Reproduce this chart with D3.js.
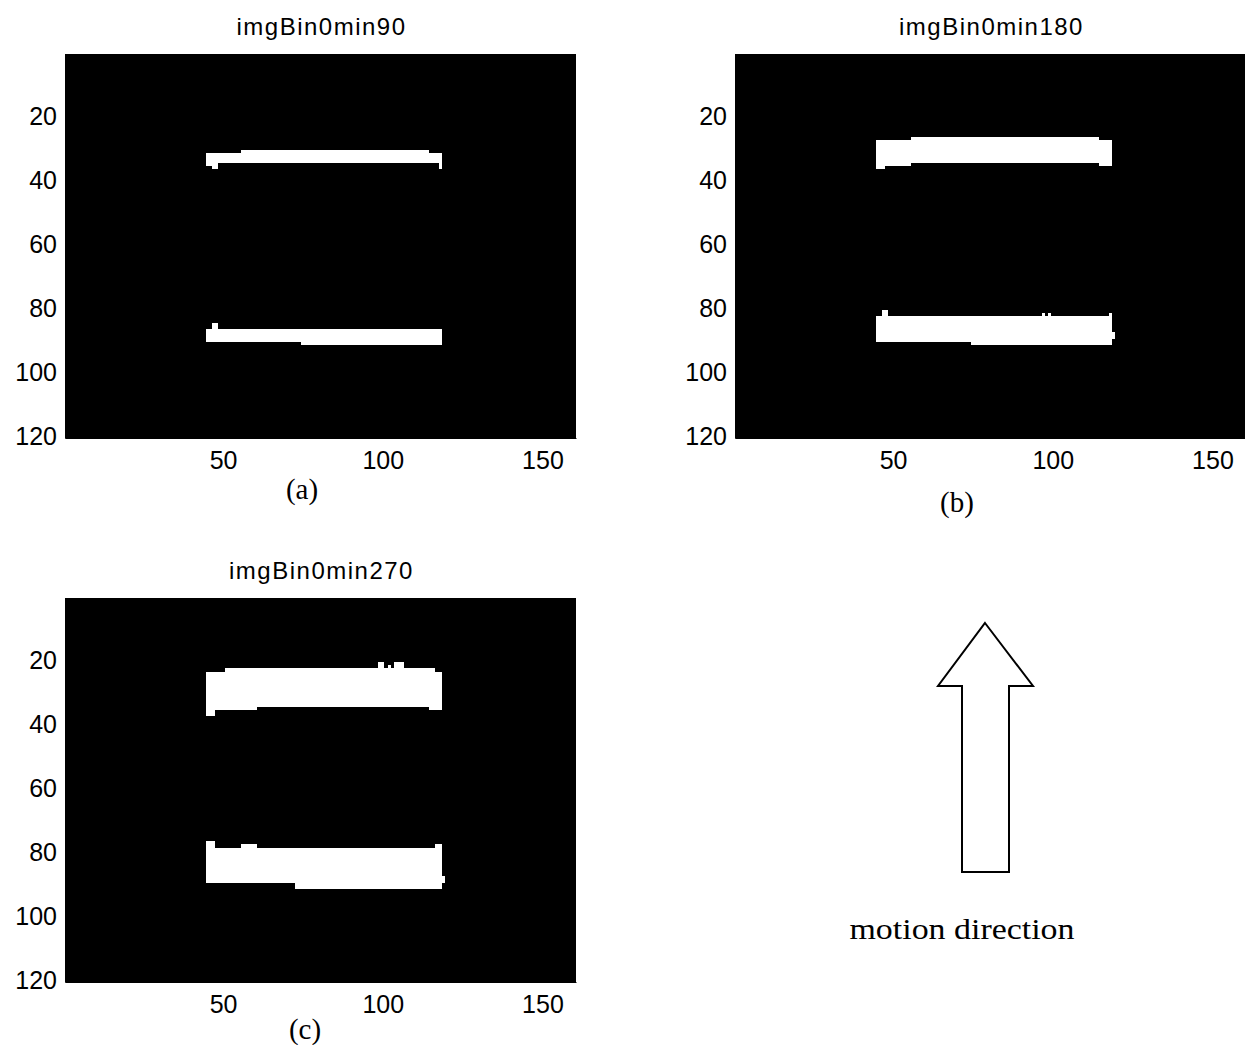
<!DOCTYPE html>
<html>
<head>
<meta charset="utf-8">
<script src="https://cdn.jsdelivr.net/npm/d3@7"></script>
<style>
  html, body { margin: 0; padding: 0; background: #fff; }
  svg { display: block; }
</style>
</head>
<body>
<svg id="chart" width="1245" height="1045"></svg>
<script>
// ---- data (image pixel blocks: [colStart, colEnd, rowStart, rowEnd], inclusive) ----
const imgCols = 160;
const imgRows = 120;
const xTicks = [50, 100, 150];
const yTicks = [20, 40, 60, 80, 100, 120];

const titles = ["imgBin0min90", "imgBin0min180", "imgBin0min270"];
const subLabels = ["(a)", "(b)", "(c)"];

const blocks90 = [
  [45, 118, 32, 34], [56, 114, 31, 31], [45, 46, 35, 35], [47, 48, 35, 36], [118, 118, 35, 36],
  [45, 118, 87, 90], [75, 118, 91, 91], [47, 48, 85, 86]
];
const blocks180 = [
  [45, 118, 28, 34], [56, 114, 27, 27], [45, 55, 35, 35], [45, 47, 36, 36], [115, 118, 35, 35],
  [45, 118, 83, 90], [75, 118, 91, 91], [47, 48, 81, 82], [118, 118, 82, 82],
  [97, 97, 82, 82], [99, 99, 82, 82], [119, 119, 88, 89]
];
const blocks270 = [
  [45, 118, 24, 34], [51, 116, 23, 23], [45, 60, 35, 35], [45, 47, 36, 37], [115, 118, 35, 35],
  [99, 100, 21, 22], [102, 102, 22, 22], [104, 106, 21, 22],
  [45, 118, 79, 89], [73, 118, 90, 91], [45, 47, 77, 78], [56, 60, 78, 78], [117, 118, 78, 78],
  [119, 119, 88, 89]
];
const annotationText = "motion direction";

// ---- layout ----
const svg = d3.select("#chart");
const W = 511, H = 384;
const panels = [
  { left: 65,  top: 54,  blocks: blocks90,  title: titles[0], label: subLabels[0], lx: 302, ly: 499 },
  { left: 735, top: 54,  blocks: blocks180, title: titles[1], label: subLabels[1], lx: 957, ly: 512 },
  { left: 65,  top: 598, blocks: blocks270, title: titles[2], label: subLabels[2], lx: 305, ly: 1039 }
];

const sansFont = "'Liberation Sans', Arial, Helvetica, sans-serif";
const serifFont = "'Liberation Serif', 'Times New Roman', serif";

panels.forEach(p => {
  const x = d3.scaleLinear().domain([0.5, imgCols + 0.5]).range([p.left, p.left + W]);
  const y = d3.scaleLinear().domain([0.5, imgRows + 0.5]).range([p.top, p.top + H]);
  const g = svg.append("g");

  g.append("rect")
    .attr("x", x(0.5)).attr("y", y(0.5))
    .attr("width", x(imgCols + 0.5) - x(0.5))
    .attr("height", y(imgRows + 0.5) - y(0.5))
    .attr("fill", "#000");

  g.selectAll("rect.px").data(p.blocks).join("rect")
    .attr("class", "px")
    .attr("x", d => x(d[0] - 0.5))
    .attr("y", d => y(d[2] - 0.5))
    .attr("width", d => x(d[1] + 0.5) - x(d[0] - 0.5))
    .attr("height", d => y(d[3] + 0.5) - y(d[2] - 0.5))
    .attr("fill", "#fff")
    .attr("shape-rendering", "crispEdges");

  // axes
  const xAxis = d3.axisBottom(x).tickValues(xTicks).tickSize(0).tickPadding(13);
  const yAxis = d3.axisLeft(y).tickValues(yTicks).tickSize(0).tickPadding(8);
  const gx = g.append("g").attr("transform", `translate(0,${y(imgRows + 0.5)})`).call(xAxis);
  const gy = g.append("g").attr("transform", `translate(${x(0.5)},0)`).call(yAxis);
  [gx, gy].forEach(a => {
    a.select(".domain").attr("stroke", "#000");
    a.selectAll("text").attr("font-family", sansFont).attr("font-size", 25).attr("fill", "#000");
  });

  // title
  g.append("text")
    .attr("x", (x(0.5) + x(imgCols + 0.5)) / 2 + 1)
    .attr("y", p.top - 19)
    .attr("text-anchor", "middle")
    .attr("font-family", sansFont)
    .attr("font-size", 24)
    .attr("letter-spacing", 1.5)
    .attr("fill", "#000")
    .text(p.title);

  // sub label
  g.append("text")
    .attr("x", p.lx).attr("y", p.ly)
    .attr("text-anchor", "middle")
    .attr("font-family", serifFont)
    .attr("font-size", 29)
    .attr("fill", "#000")
    .text(p.label);
});

// ---- motion direction arrow (annotation) ----
const arrow = [[985, 623], [1033, 686], [1009, 686], [1009, 872], [962, 872], [962, 686], [938, 686]];
svg.append("path")
  .attr("d", d3.line()(arrow) + "Z")
  .attr("fill", "#fff")
  .attr("stroke", "#000")
  .attr("stroke-width", 2)
  .attr("stroke-linejoin", "miter");

svg.append("text")
  .attr("x", 962).attr("y", 939)
  .attr("text-anchor", "middle")
  .attr("font-family", serifFont)
  .attr("font-size", 30)
  .attr("fill", "#000")
  .attr("textLength", 225)
  .attr("lengthAdjust", "spacingAndGlyphs")
  .text(annotationText);
</script>
</body>
</html>
